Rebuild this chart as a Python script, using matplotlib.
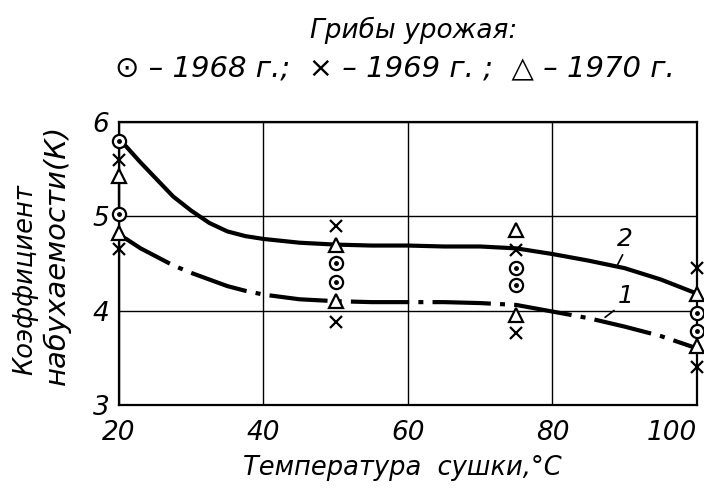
import matplotlib.pyplot as plt

# measurement temperatures and K values (two samples per year at each temperature)
temps = [20, 50, 75, 100]
k_1968_hi = [5.8, 4.5, 4.45, 3.97]
k_1968_lo = [5.02, 4.3, 4.27, 3.78]
k_1969_hi = [5.6, 4.9, 4.64, 4.45]
k_1969_lo = [4.65, 3.88, 3.76, 3.4]
k_1970_hi = [5.43, 4.7, 4.85, 4.18]
k_1970_lo = [4.82, 4.1, 3.95, 3.62]

# fitted curves
curve_x = [20, 21, 23, 25, 27.5, 30, 32.5, 35, 37.5, 40, 45, 50, 55, 60, 65, 70,
           75, 80, 85, 90, 95, 100]
curve2_y = [5.8, 5.74, 5.57, 5.41, 5.21, 5.06, 4.93, 4.84, 4.79, 4.76, 4.72, 4.70,
            4.69, 4.69, 4.68, 4.68, 4.66, 4.60, 4.53, 4.45, 4.33, 4.18]
curve1_y = [4.8, 4.76, 4.66, 4.58, 4.48, 4.40, 4.33, 4.26, 4.21, 4.17, 4.12, 4.10,
            4.09, 4.09, 4.09, 4.08, 4.06, 3.99, 3.92, 3.83, 3.73, 3.6]

xticks = [20, 40, 60, 80, 100]
yticks = [3, 4, 5, 6]

fig = plt.figure(figsize=(7.04, 4.92), dpi=100)
ax = fig.add_axes([0.169, 0.177, 0.821, 0.575])

ax.set_xlim(20, 100)
ax.set_ylim(3, 6)
ax.set_xticks(xticks)
ax.set_yticks(yticks)
ax.grid(True, color='black', lw=1.0)
ax.tick_params(length=0)
ax.tick_params(axis='x', pad=11)
ax.tick_params(axis='y', pad=7)
ax.set_xticklabels([str(t) for t in xticks], style='italic', fontsize=19)
ax.set_yticklabels([str(t) for t in yticks], style='italic', fontsize=19)
ax.get_xticklabels()[-1].set_ha('right')
for sp in ax.spines.values():
    sp.set_linewidth(1.6)

ax.plot(curve_x, curve2_y, color='black', lw=3.0, solid_capstyle='round', zorder=3)
ax.plot(curve_x, curve1_y, color='black', lw=3.0, zorder=3,
        dashes=(14, 2.2, 1.2, 2.2))

# vertical connector at 20 C
ax.plot([20, 20], [k_1970_hi[0], k_1968_lo[0]], color='black', lw=1.6, zorder=3, clip_on=False)

for ys in (k_1968_hi, k_1968_lo):
    ax.plot(temps, ys, 'o', ms=9.5, mfc='white', mec='black', mew=1.6,
            clip_on=False, zorder=5)
    ax.plot(temps, ys, 'o', ms=2.5, color='black', clip_on=False, zorder=6)
for ys in (k_1969_hi, k_1969_lo):
    ax.plot(temps, ys, 'x', ms=8, color='black', mew=1.6, clip_on=False, zorder=5)
for ys in (k_1970_hi, k_1970_lo):
    ax.plot(temps, ys, '^', ms=9.5, mfc='white', mec='black', mew=1.6,
            clip_on=False, zorder=5)

# curve labels with leader ticks
ax.text(90.0, 4.76, '2', fontsize=18, style='italic', ha='center', va='center')
ax.plot([89.7, 88.9], [4.59, 4.47], color='black', lw=1.2)
ax.text(90.2, 4.15, '1', fontsize=18, style='italic', ha='center', va='center')
ax.plot([88.5, 87.3], [4.0, 3.93], color='black', lw=1.2)

fig.text(0.572, 0.049, 'Температура  сушки,°С', fontsize=18.5,
         style='italic', ha='center', va='center')
fig.text(0.036, 0.431, 'Коэффициент', rotation=90, fontsize=18.5, style='italic',
         ha='center', va='center')
fig.text(0.080, 0.482, 'набухаемости(К)', rotation=90, fontsize=21, style='italic',
         ha='center', va='center')

fig.text(0.588, 0.939, 'Грибы урожая:', fontsize=19, style='italic',
         ha='center', va='center')
fig.text(0.163, 0.862, '⊙ – 1968 г.;  × – 1969 г. ;  △ – 1970 г.', fontsize=21,
         style='italic', ha='left', va='center')

fig.savefig('out.png', dpi=100)
